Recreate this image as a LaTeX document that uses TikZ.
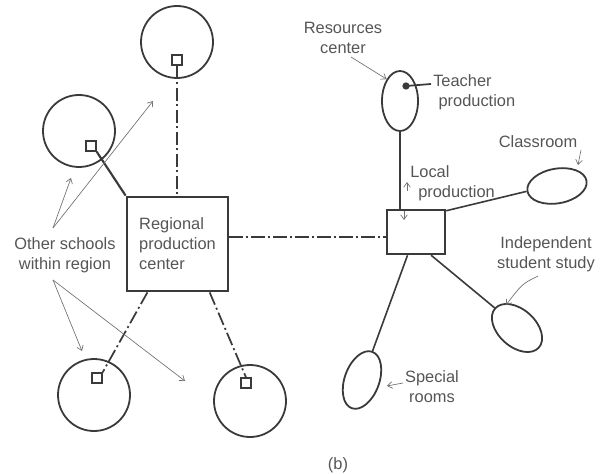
\documentclass[tikz,border=0pt]{standalone}
\usepackage{fontspec}
\setmainfont{Liberation Sans}
\usetikzlibrary{shapes.geometric,arrows.meta,calc}
\definecolor{ink}{HTML}{3A3A3A}
\definecolor{txt}{HTML}{555555}
\definecolor{thin}{HTML}{707070}
\begin{document}
\begin{tikzpicture}[x=0.75pt,y=-0.75pt,
  school/.style={circle, draw=ink, line width=1.35pt, minimum size=54pt, inner sep=0pt},
  hub/.style={rectangle, draw=ink, line width=1.5pt, minimum size=7pt, inner sep=0pt},
  regbox/.style={rectangle, draw=ink, line width=2.1pt, minimum width=75.75pt, minimum height=70.5pt, inner sep=0pt},
  locbox/.style={rectangle, draw=ink, line width=1.9pt, minimum width=43.5pt, minimum height=33pt, inner sep=0pt},
  room/.style={ellipse, draw=ink, line width=1.35pt, inner sep=0pt},
  link/.style={draw=ink, line width=1.2pt},
  dashdot/.style={link, line width=1.3pt, dash pattern=on 10pt off 2.5pt on 1.5pt off 2.5pt},
  pointer/.style={draw=thin, line width=0.5pt, -{Straight Barb[length=3.5pt,width=5pt]}},
  lbl/.style={font=\fontsize{12.3}{15}\selectfont, text=txt, align=center, inner sep=0pt}]
\useasboundingbox (0,0) rectangle (600,474);

% regional production network
\node[school] (cT) at (177,42) {};
\node[school] (cL) at (79,131) {};
\node[school] (cBL) at (94,395) {};
\node[school] (cBR) at (250,401) {};
\node[hub] (hT) at (177,60) {};
\node[hub] (hL) at (91,146) {};
\node[hub] (hBL) at (97,378) {};
\node[hub] (hBR) at (246,383) {};
\node[regbox, lbl, align=left, text=txt] (reg) at (177.5,244) {Regional\\production\\center};

\draw[dashdot] (hT.south) -- (hT.south |- reg.north);
\draw[link, line width=1.6pt] (hL.south east) -- (reg.north west);
\draw[dashdot] ($(reg.south west)!0.21!(reg.south east)$) -- (hBL.north east);
\draw[dashdot] ($(reg.south west)!0.81!(reg.south east)$) -- (hBR.north);

% local school
\node[locbox] (loc) at (416,232) {};
\coordinate (lk) at (388,237);
\draw[dashdot] (reg.east |- lk) -- (loc.west |- lk);

\node[room, minimum width=27pt, minimum height=45pt] (res) at (400,101) {};
\node[room, minimum width=45pt, minimum height=26pt, rotate=10] (cls) at (557,186) {};
\node[room, minimum width=44pt, minimum height=28pt, rotate=-42] (ind) at (517,328) {};
\node[room, minimum width=26pt, minimum height=45pt, rotate=-20] (spc) at (362,380) {};

\draw[link] (res.south) -- (res.south |- loc.north);
\draw[link] ($(loc.north east)+(0,2)$) -- (cls.west);
\draw[link] ($(loc.south west)!0.75!(loc.south east)$) -- (ind.west);
\draw[link] ($(loc.south west)!0.36!(loc.south east)$) -- (spc.north);

% teacher production point
\node[circle, fill=ink, minimum size=5.5pt, inner sep=0pt] (tp) at (406,86) {};

% labels
\node[lbl] (oth) at (65,255) {Other schools\\within region};
\node[lbl] (rct) at (343,38) {Resources\\center};
\node[lbl, align=left, anchor=west] (tch) at (433,92) {Teacher\\\hspace*{4pt}production};
\node[lbl] (clb) at (538,142) {Classroom};
\node[lbl, align=left, anchor=west] (lpr) at (410,183) {Local\\\hspace*{6pt}production};
\node[lbl] (isl) at (546,254) {Independent\\student study};
\node[lbl] (spl) at (432,387) {Special\\rooms};
\node[lbl] (cap) at (338,465) {(b)};

% pointers
\coordinate (o1) at (53,228);
\coordinate (o2) at (53,280);
\coordinate (pL) at (71,178);
\coordinate (pT) at (153,101);
\coordinate (pBL) at (82,351);
\coordinate (pBR) at (185,381);
\draw[pointer] (o1) -- (pL);
\draw[pointer] (o1) -- (pT);
\draw[pointer] (o2) -- (pBL);
\draw[pointer] (o2) -- (pBR);

\draw[pointer] (351,57) -- (res.north west);
\coordinate (tq) at (431,84);
\draw[draw=ink, line width=1.3pt] (tp.center) -- (tq);
\draw[pointer] (581,150) -- (578,165);
\draw[pointer] (407,191) -- (407,182);
\draw[pointer] (404,211) -- (404,220);
\draw[pointer] (538,276) .. controls (522,284) .. (506,305);
\draw[pointer] (403,383) -- (387,386);
\end{tikzpicture}
\end{document}
